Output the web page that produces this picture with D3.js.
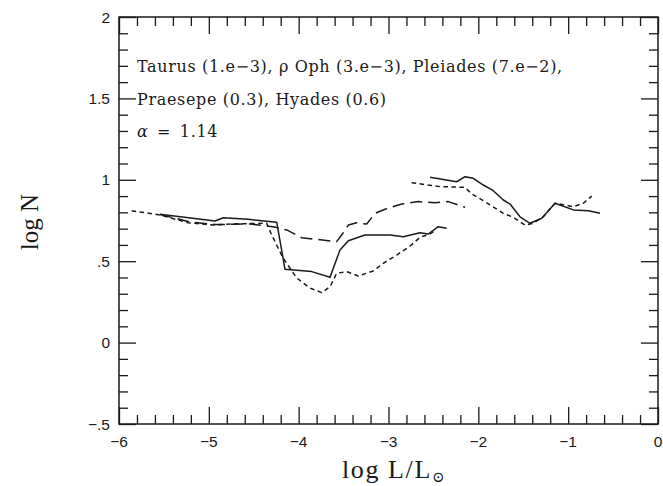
<!DOCTYPE html>
<html>
<head>
<meta charset="utf-8">
<script src="https://cdn.jsdelivr.net/npm/d3@7"></script>
<style>
  html, body { margin: 0; padding: 0; background: #fff; }
  svg { display: block; }
</style>
</head>
<body>
<svg id="chart" width="663" height="486"></svg>
<script>
// Luminosity functions (log N vs log L/Lsun) for five clusters
const taurusLogL = [-5.544, -4.931, -4.839, -4.561, -4.244, -4.152, -3.855, -3.651, -3.540, -3.447, -3.262, -2.983, -2.835, -2.649, -2.557, -2.446, -2.352];
const taurusLogN = [0.788, 0.747, 0.767, 0.757, 0.739, 0.450, 0.436, 0.401, 0.569, 0.626, 0.661, 0.661, 0.650, 0.675, 0.667, 0.712, 0.702];

const rhoOphLogL = [-5.859, -5.544, -5.229, -4.950, -4.728, -4.356, -4.300, -4.174, -4.022, -3.874, -3.743, -3.651, -3.577, -3.465, -3.336, -3.170, -3.058, -2.909, -2.760, -2.649, -2.538, -2.480];
const rhoOphLogN = [0.810, 0.784, 0.736, 0.722, 0.729, 0.733, 0.661, 0.520, 0.397, 0.335, 0.307, 0.343, 0.426, 0.436, 0.409, 0.440, 0.487, 0.538, 0.593, 0.647, 0.667, 0.690];

const pleiadesLogL = [-5.544, -5.210, -4.931, -4.540, -4.286, -4.133, -3.966, -3.577, -3.506, -3.447, -3.354, -3.243, -3.150, -3.039, -2.853, -2.668, -2.482, -2.334, -2.148];
const pleiadesLogN = [0.787, 0.741, 0.725, 0.729, 0.712, 0.692, 0.644, 0.620, 0.673, 0.722, 0.736, 0.728, 0.794, 0.819, 0.851, 0.866, 0.859, 0.866, 0.831];

const praesepeLogL = [-2.538, -2.241, -2.148, -2.056, -1.945, -1.833, -1.722, -1.647, -1.536, -1.425, -1.294, -1.146, -0.942, -0.775, -0.645];
const praesepeLogN = [1.015, 0.988, 1.019, 1.009, 0.968, 0.933, 0.876, 0.851, 0.773, 0.733, 0.764, 0.856, 0.815, 0.810, 0.794];

const hyadesLogL = [-2.742, -2.427, -2.148, -2.074, -1.945, -1.722, -1.611, -1.481, -1.388, -1.277, -1.146, -0.942, -0.831, -0.738];
const hyadesLogN = [0.982, 0.958, 0.954, 0.913, 0.872, 0.794, 0.770, 0.722, 0.733, 0.773, 0.856, 0.835, 0.856, 0.900];

const xTicks = [-6, -5, -4, -3, -2, -1, 0];
const xTickLabels = ["\u22126", "\u22125", "\u22124", "\u22123", "\u22122", "\u22121", "0"];
const yTicks = [-0.5, 0, 0.5, 1, 1.5, 2];
const yTickLabels = ["\u2212.5", "0", ".5", "1", "1.5", "2"];

const annotationLines = [
  "Taurus (1.e\u22123), \u03c1 Oph (3.e\u22123), Pleiades (7.e\u22122),",
  "Praesepe (0.3), Hyades (0.6)"
];
const alphaValue = "1.14";

const series = [
  { name: "Taurus", x: taurusLogL, y: taurusLogN, dash: null },
  { name: "rho Oph", x: rhoOphLogL, y: rhoOphLogN, dash: "4.5,3.5" },
  { name: "Pleiades", x: pleiadesLogL, y: pleiadesLogN, dash: "12,6" },
  { name: "Praesepe", x: praesepeLogL, y: praesepeLogN, dash: null },
  { name: "Hyades", x: hyadesLogL, y: hyadesLogN, dash: "4.5,3.5" }
];

const W = 663, H = 486;
const margin = { left: 119, right: 5, top: 17, bottom: 62 };
const svg = d3.select("#chart");
const ink = "#1a1a1a";

const x = d3.scaleLinear().domain([-6, 0]).range([margin.left, W - margin.right]);
const y = d3.scaleLinear().domain([-0.5, 2]).range([H - margin.bottom, margin.top]);

const x0 = x.range()[0], x1 = x.range()[1];
const y0 = y.range()[0], y1 = y.range()[1];

// Ticks on all four sides, pointing inward
const xMinor = d3.range(-6, 0.001, 0.2).map(v => +v.toFixed(2)).filter(v => !xTicks.some(t => Math.abs(t - v) < 1e-6));
const yMinor = d3.range(-0.5, 2.001, 0.1).map(v => +v.toFixed(2)).filter(v => !yTicks.some(t => Math.abs(t - v) < 1e-6));
const majorLen = 17, minorLen = 9;

function tickAxis(axisFn, scale, values, len, transform) {
  const g = svg.append("g").attr("transform", transform)
    .call(axisFn(scale).tickValues(values).tickSizeInner(-len).tickSizeOuter(0).tickFormat(""));
  g.select(".domain").remove();
  g.selectAll("line").attr("stroke", ink).attr("stroke-width", 1.3);
  return g;
}
// bottom / top
tickAxis(d3.axisBottom, x, xTicks, majorLen, `translate(0,${y0})`);
tickAxis(d3.axisBottom, x, xMinor, minorLen, `translate(0,${y0})`);
tickAxis(d3.axisTop, x, xTicks, majorLen, `translate(0,${y1})`);
tickAxis(d3.axisTop, x, xMinor, minorLen, `translate(0,${y1})`);
// left / right
tickAxis(d3.axisLeft, y, yTicks, majorLen, `translate(${x0},0)`);
tickAxis(d3.axisLeft, y, yMinor, minorLen, `translate(${x0},0)`);
tickAxis(d3.axisRight, y, yTicks, majorLen, `translate(${x1},0)`);
tickAxis(d3.axisRight, y, yMinor, minorLen, `translate(${x1},0)`);

// Frame
svg.append("rect")
  .attr("x", x0).attr("y", y1)
  .attr("width", x1 - x0).attr("height", y0 - y1)
  .attr("fill", "none").attr("stroke", ink).attr("stroke-width", 1.5);

// Tick labels
const tickFont = "'Liberation Sans', Arial, sans-serif";
svg.append("g").selectAll("text").data(xTicks).join("text")
  .attr("x", d => x(d)).attr("y", y0 + 23)
  .attr("text-anchor", "middle")
  .attr("font-family", tickFont).attr("font-size", 15.5).attr("fill", ink)
  .text((d, i) => xTickLabels[i]);
svg.append("g").selectAll("text").data(yTicks).join("text")
  .attr("x", x0 - 9).attr("y", d => y(d) + 5.5)
  .attr("text-anchor", "end")
  .attr("font-family", tickFont).attr("font-size", 15.5).attr("fill", ink)
  .text((d, i) => yTickLabels[i]);

// Axis titles
const titleFont = "'Liberation Serif', 'DejaVu Serif', serif";
const xt = svg.append("text")
  .attr("x", 394).attr("y", 478)
  .attr("text-anchor", "middle")
  .attr("font-family", titleFont).attr("font-size", 26).attr("letter-spacing", 1.6).attr("fill", ink);
xt.append("tspan").text("log  L/L");
xt.append("tspan").attr("font-size", 15).attr("dy", 4).text("\u2299");

svg.append("text")
  .attr("transform", "translate(38,222) rotate(-90)")
  .attr("text-anchor", "middle")
  .attr("font-family", titleFont).attr("font-size", 25).attr("fill", ink)
  .text("log  N");

// Annotation
const noteFont = "'DejaVu Serif', serif";
svg.append("g").selectAll("text").data(annotationLines).join("text")
  .attr("x", 137).attr("y", (d, i) => 71.5 + i * 33)
  .attr("font-family", noteFont).attr("font-size", 16).attr("letter-spacing", 0.65).attr("fill", ink)
  .text(d => d);
const alpha = svg.append("text")
  .attr("x", 137).attr("y", 137)
  .attr("font-family", noteFont).attr("font-size", 16).attr("letter-spacing", 0.65).attr("fill", ink);
alpha.append("tspan").attr("font-style", "italic").text("\u03b1");
alpha.append("tspan").text("\u2002=\u2002" + alphaValue);

// Curves
const line = d3.line().x(d => x(d[0])).y(d => y(d[1]));
svg.append("g").selectAll("path").data(series).join("path")
  .attr("d", s => line(s.x.map((v, i) => [v, s.y[i]])))
  .attr("fill", "none")
  .attr("stroke", ink)
  .attr("stroke-width", 1.5)
  .attr("stroke-linejoin", "round")
  .attr("stroke-dasharray", s => s.dash);
</script>
</body>
</html>
